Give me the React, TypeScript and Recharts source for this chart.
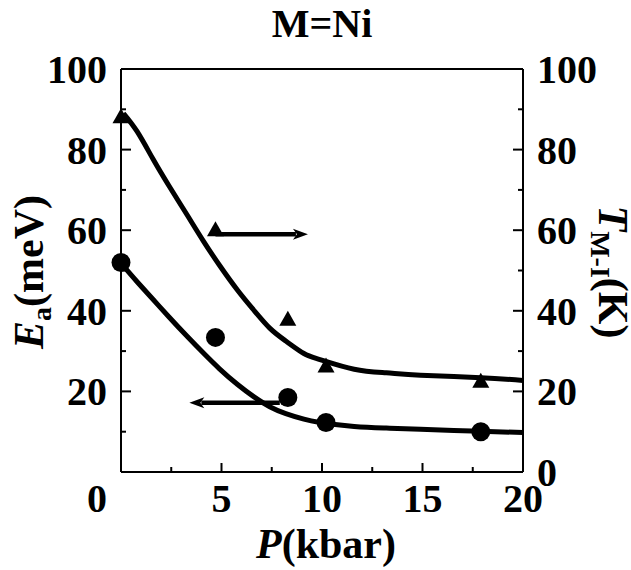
import React from 'react';
import { ComposedChart, Line, Scatter, XAxis, YAxis, ReferenceLine, Label } from 'recharts';

// measured points, P in kbar
const eaPressure = [0, 4.7, 8.3, 10.2, 17.9];
const eaValues = [52, 33.4, 18.5, 12.3, 10];
const tmiPressure = [0, 4.7, 8.3, 10.2, 17.9];
const tmiValues = [88, 60, 37.8, 26.2, 22.4];

// guide-to-the-eye curves
const fitPressure = [0.12, 0.8, 1.6, 2.4, 3.3, 4.1, 4.9, 5.8, 6.6, 7.4, 8.2, 9.1, 9.9, 11.6, 13.2, 14.9, 17.9, 20];
const tmiFit = [89, 84.5, 77.6, 70.9, 63.7, 57.3, 51.3, 45.1, 40.2, 35.7, 32.5, 29.4, 27.9, 25.5, 24.6, 24.0, 23.4, 22.7];
const eaFit = [51.1, 47.2, 42.8, 38.4, 33.6, 29.5, 25.6, 21.7, 18.7, 16.2, 14.5, 13.1, 12.3, 11.3, 10.9, 10.6, 10.1, 9.8];

// arrows pointing each data set to its axis
const tmiArrowX = [4.7, 9.3];
const tmiArrowY = 59;
const eaArrowX = [7.9, 3.4];
const eaArrowY = 17.2;

const xTicks = [0, 2.5, 5, 7.5, 10, 12.5, 15, 17.5, 20];
const yTicks = [0, 10, 20, 30, 40, 50, 60, 70, 80, 90, 100];

const FONT = "'Liberation Serif', 'Times New Roman', serif";

const pts = (xs: number[], ys: number[]) => xs.map((x, i) => ({ x, y: ys[i] }));

const eaData = pts(eaPressure, eaValues);
const tmiData = pts(tmiPressure, tmiValues);
const eaFitData = pts(fitPressure, eaFit);
const tmiFitData = pts(fitPressure, tmiFit);

const textStyle: React.CSSProperties = { fontFamily: FONT, fontWeight: 700, fontSize: 40, fill: '#000' };
const titleStyle: React.CSSProperties = { ...textStyle, fontSize: 42 };

const BottomTick = (props: any) => {
  const { x, y, payload } = props;
  const v = payload.value;
  const major = v % 5 === 0;
  return (
    <g>
      <line x1={x} y1={y} x2={x} y2={y - (major ? 9 : 5)} stroke="#000" strokeWidth={2} />
      {major && (
        <text x={v === 0 ? x - 24 : x} y={y + 40} textAnchor="middle" style={textStyle}>
          {v}
        </text>
      )}
    </g>
  );
};

const TopTick = (props: any) => {
  const { x, y, payload } = props;
  const major = payload.value % 5 === 0;
  return <line x1={x} y1={y} x2={x} y2={y + (major ? 9 : 5)} stroke="#000" strokeWidth={2} />;
};

const LeftTick = (props: any) => {
  const { x, y, payload } = props;
  const v = payload.value;
  const major = v % 20 === 0;
  return (
    <g>
      <line x1={x} y1={y} x2={x + (major ? 10 : 5)} y2={y} stroke="#000" strokeWidth={2} />
      {major && v !== 0 && (
        <text x={x - 14} y={y + 14} textAnchor="end" style={textStyle}>
          {v}
        </text>
      )}
    </g>
  );
};

const RightTick = (props: any) => {
  const { x, y, payload } = props;
  const v = payload.value;
  const major = v % 20 === 0;
  return (
    <g>
      <line x1={x} y1={y} x2={x - (major ? 10 : 5)} y2={y} stroke="#000" strokeWidth={2} />
      {major && (
        <text x={x + 14} y={y + 14} textAnchor="start" style={textStyle}>
          {v}
        </text>
      )}
    </g>
  );
};

const Circle = (props: any) => <circle cx={props.cx} cy={props.cy} r={9.5} fill="#000" />;

const Triangle = (props: any) => {
  const { cx, cy } = props;
  return <polygon points={`${cx},${cy - 9} ${cx - 8.5},${cy + 6} ${cx + 8.5},${cy + 6}`} fill="#000" />;
};

const Arrow = (props: any) => {
  const { x1, y1, x2, y2 } = props;
  const dir = x2 > x1 ? 1 : -1;
  const head = 15;
  return (
    <g>
      <line x1={x1} y1={y1} x2={x2 - dir * (head - 3)} y2={y2} stroke="#000" strokeWidth={4.5} />
      <polygon
        points={`${x2},${y2} ${x2 - dir * head},${y2 - 5.5} ${x2 - dir * (head - 4)},${y2} ${x2 - dir * head},${y2 + 5.5}`}
        fill="#000"
      />
    </g>
  );
};

const axisLine = { stroke: '#000', strokeWidth: 2 };

export default function App() {
  return (
    <div style={{ position: 'absolute', left: 0, top: 0, background: '#fff' }}>
      <ComposedChart width={631} height={570} margin={{ top: 0, right: 0, bottom: 0, left: 0 }}>
        <XAxis
          xAxisId="b"
          dataKey="x"
          type="number"
          orientation="bottom"
          domain={[0, 20]}
          ticks={xTicks}
          interval={0}
          height={98}
          tickSize={0}
          tickMargin={0}
          axisLine={axisLine}
          tick={<BottomTick />}
        >
          <Label
            content={() => (
              <text x={326} y={558} textAnchor="middle" style={titleStyle}>
                <tspan fontStyle="italic">P</tspan>
                <tspan>(kbar)</tspan>
              </text>
            )}
          />
        </XAxis>
        <XAxis
          xAxisId="t"
          dataKey="x"
          type="number"
          orientation="top"
          domain={[0, 20]}
          ticks={xTicks}
          interval={0}
          height={69}
          tickSize={0}
          tickMargin={0}
          axisLine={axisLine}
          tick={<TopTick />}
        >
          <Label
            content={() => (
              <text x={322} y={37} textAnchor="middle" style={textStyle}>
                M=Ni
              </text>
            )}
          />
        </XAxis>
        <YAxis
          yAxisId="l"
          type="number"
          orientation="left"
          domain={[0, 100]}
          ticks={yTicks}
          interval={0}
          width={121}
          tickSize={0}
          tickMargin={0}
          axisLine={axisLine}
          tick={<LeftTick />}
        >
          <Label
            content={() => (
              <text transform="translate(43,272) rotate(-90)" textAnchor="middle" style={titleStyle}>
                <tspan fontStyle="italic">E</tspan>
                <tspan fontSize={28} dy={8}>a</tspan>
                <tspan dy={-8}>(meV)</tspan>
              </text>
            )}
          />
        </YAxis>
        <YAxis
          yAxisId="r"
          type="number"
          orientation="right"
          domain={[0, 100]}
          ticks={yTicks}
          interval={0}
          width={108}
          tickSize={0}
          tickMargin={0}
          axisLine={axisLine}
          tick={<RightTick />}
        >
          <Label
            content={() => (
              <text transform="translate(599,272) rotate(90)" textAnchor="middle" style={titleStyle}>
                <tspan fontStyle="italic">T</tspan>
                <tspan fontSize={28} dy={8}>M-I</tspan>
                <tspan dy={-8}>(K)</tspan>
              </text>
            )}
          />
        </YAxis>

        <Line
          xAxisId="b"
          yAxisId="r"
          data={tmiFitData}
          dataKey="y"
          type="natural"
          stroke="#000"
          strokeWidth={5}
          dot={false}
          activeDot={false}
          isAnimationActive={false}
        />
        <Line
          xAxisId="b"
          yAxisId="l"
          data={eaFitData}
          dataKey="y"
          type="natural"
          stroke="#000"
          strokeWidth={5}
          dot={false}
          activeDot={false}
          isAnimationActive={false}
        />
        <Scatter xAxisId="b" yAxisId="r" data={tmiData} dataKey="y" shape={Triangle} isAnimationActive={false} />
        <Scatter xAxisId="b" yAxisId="l" data={eaData} dataKey="y" shape={Circle} isAnimationActive={false} />

        <ReferenceLine
          xAxisId="b"
          yAxisId="r"
          segment={[{ x: tmiArrowX[0], y: tmiArrowY }, { x: tmiArrowX[1], y: tmiArrowY }]}
          shape={Arrow}
        />
        <ReferenceLine
          xAxisId="b"
          yAxisId="l"
          segment={[{ x: eaArrowX[0], y: eaArrowY }, { x: eaArrowX[1], y: eaArrowY }]}
          shape={Arrow}
        />
      </ComposedChart>
    </div>
  );
}
